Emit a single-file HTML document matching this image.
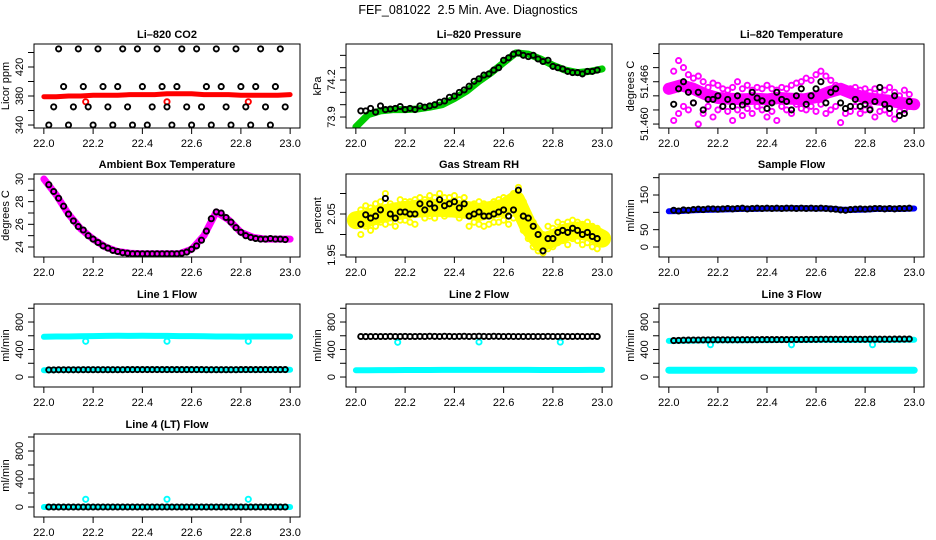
<!DOCTYPE html>
<html><head><meta charset="utf-8"><style>
html,body{margin:0;padding:0;background:#fff;}
svg{display:block;font-family:"Liberation Sans",Arial,sans-serif;}
</style></head><body>
<svg id="chart" width="936" height="540" viewBox="0 0 936 540" xmlns="http://www.w3.org/2000/svg">
<rect width="936" height="540" fill="#fff"/>
<text x="468" y="14" text-anchor="middle" font-size="12.5">FEF_081022&#160; 2.5 Min. Ave. Diagnostics</text>
</svg>
<script>
// ---------- data ----------
const T = [22.02,22.04,22.06,22.08,22.10,22.12,22.14,22.16,22.18,22.20,22.22,22.24,22.26,22.28,22.30,22.32,22.34,22.36,22.38,22.40,22.42,22.44,22.46,22.48,22.50,22.52,22.54,22.56,22.58,22.60,22.62,22.64,22.66,22.68,22.70,22.72,22.74,22.76,22.78,22.80,22.82,22.84,22.86,22.88,22.90,22.92,22.94,22.96,22.98];
const BT = [22.00,22.05,22.10,22.15,22.20,22.25,22.30,22.35,22.40,22.45,22.50,22.55,22.60,22.65,22.70,22.75,22.80,22.85,22.90,22.95,23.00];
const spikeT = [22.17,22.50,22.83];
const xTicks = [22.0,22.2,22.4,22.6,22.8,23.0];
const xTickLabels = ["22.0","22.2","22.4","22.6","22.8","23.0"];

const co2Black = [340,365,445,393,340,365,445,393,365,340,445,393,365,340,393,445,365,340,445,393,340,365,445,393,365,340,393,445,365,340,445,365,393,340,445,393,365,340,445,393,365,340,393,445,365,340,393,445,365];
const co2Red = [379,379,380,380,381,381,381,382,382,382,383,383,383,382,382,382,381,381,381,381,382];
const co2RedOut = [372,372,372];

const pressBand = [73.82,73.92,73.95,73.96,73.96,73.965,73.98,74.00,74.05,74.11,74.19,74.26,74.34,74.42,74.41,74.37,74.32,74.28,74.26,74.27,74.29];
const pressBlack = [73.95,73.95,73.97,73.94,73.99,73.96,73.965,73.97,73.985,73.96,73.97,73.96,73.99,73.98,73.99,74.0,74.02,74.03,74.06,74.07,74.10,74.12,74.15,74.19,74.21,74.24,74.25,74.28,74.30,74.36,74.38,74.41,74.42,74.40,74.39,74.40,74.37,74.35,74.36,74.31,74.30,74.29,74.27,74.26,74.26,74.25,74.27,74.27,74.28];

const tempBand = [51.4650,51.4655,51.4650,51.4642,51.4637,51.4636,51.4635,51.4636,51.4635,51.4637,51.4636,51.4635,51.4638,51.4645,51.4650,51.4643,51.4637,51.4635,51.4633,51.4630,51.4628];
const tempUp = [51.4675,51.4690,51.4680,51.4670,51.4665,51.4668,51.4660,51.4652,51.4658,51.4655,51.4650,51.4648,51.4652,51.4660,51.4650,51.4655,51.4648,51.4652,51.4650,51.4655,51.4650,51.4648,51.4652,51.4650,51.4655,51.4658,51.4660,51.4665,51.4662,51.4670,51.4675,51.4668,51.4662,51.4655,51.4650,51.4648,51.4650,51.4652,51.4648,51.4650,51.4645,51.4650,51.4645,51.4648,51.4652,51.4645,51.4640,51.4648,51.4642];
const tempLow = [51.4605,51.4615,51.4625,51.4620,51.4630,51.4600,51.4615,51.4625,51.4610,51.4620,51.4625,51.4618,51.4605,51.4620,51.4612,51.4622,51.4615,51.4625,51.4620,51.4610,51.4618,51.4605,51.4625,51.4620,51.4615,51.4628,51.4622,51.4620,51.4625,51.4618,51.4628,51.4615,51.4620,51.4625,51.4602,51.4615,51.4618,51.4625,51.4615,51.4620,51.4622,51.4610,51.4618,51.4620,51.4615,51.4607,51.4618,51.4620,51.4625];
const tempBlack = [51.4628,51.4650,51.4660,51.4645,51.4630,51.4645,51.4620,51.4635,51.4635,51.4640,51.4625,51.4635,51.4625,51.4640,51.4627,51.4632,51.4645,51.4637,51.4633,51.4622,51.4630,51.4645,51.4635,51.4632,51.4620,51.4640,51.4650,51.4628,51.4640,51.4650,51.4660,51.4630,51.4645,51.4650,51.4630,51.4622,51.4625,51.4635,51.4625,51.4628,51.4620,51.4632,51.4652,51.4628,51.4622,51.4640,51.4612,51.4615,51.4632];

const ambBand = [30.0,28.6,26.9,25.6,24.7,24.0,23.6,23.45,23.4,23.4,23.4,23.4,23.8,25.0,27.1,26.4,25.3,24.85,24.7,24.7,24.7];
const ambBlack = [29.5,28.9,28.3,27.6,26.9,26.3,25.8,25.5,25.0,24.7,24.4,24.1,23.9,23.7,23.6,23.5,23.45,23.4,23.4,23.4,23.4,23.4,23.4,23.4,23.4,23.4,23.4,23.45,23.55,23.8,24.1,24.6,25.4,26.5,27.1,27.0,26.6,26.2,25.7,25.3,25.0,24.85,24.75,24.7,24.7,24.75,24.7,24.7,24.65];

const rhBand = [2.035,2.04,2.05,2.055,2.06,2.063,2.065,2.065,2.063,2.06,2.055,2.06,2.065,2.085,2.02,1.98,1.99,2.005,2.01,2.005,1.99];
const rhUp = [2.06,2.07,2.065,2.075,2.08,2.10,2.075,2.07,2.085,2.08,2.08,2.085,2.09,2.085,2.095,2.09,2.10,2.09,2.09,2.095,2.085,2.09,2.07,2.075,2.08,2.075,2.07,2.08,2.085,2.09,2.085,2.10,2.115,2.08,2.04,2.03,2.01,2.0,2.02,2.015,2.03,2.025,2.03,2.035,2.03,2.025,2.03,2.02,2.015];
const rhLow = [2.0,2.02,2.01,2.02,2.03,2.025,2.03,2.02,2.035,2.035,2.03,2.025,2.05,2.04,2.045,2.04,2.06,2.045,2.05,2.055,2.04,2.05,2.02,2.03,2.025,2.02,2.025,2.03,2.03,2.035,2.025,2.04,2.07,2.01,1.99,1.97,1.96,1.955,1.965,1.97,1.98,1.985,1.975,1.99,1.985,1.975,1.98,1.97,1.965];
const rhBlack = [2.025,2.048,2.04,2.045,2.06,2.088,2.05,2.04,2.055,2.055,2.05,2.05,2.075,2.06,2.075,2.065,2.085,2.07,2.075,2.08,2.065,2.075,2.045,2.05,2.055,2.045,2.045,2.05,2.055,2.06,2.045,2.06,2.108,2.045,2.04,2.02,2.0,1.96,1.99,1.99,2.005,2.01,2.005,2.015,2.01,2.0,2.005,1.995,1.99];

const sampBand = [103,104,106,107,108,109,110,110,111,111,112,112,111,111,108,107,108,110,110,110,111];
const sampBlack = [106,104,107,106,108,109,108,110,110,109,110,111,110,111,112,110,111,112,111,112,111,112,111,112,112,111,112,111,112,111,112,111,110,109,107,106,108,109,110,109,110,111,111,110,111,110,111,111,112];

const l1High = [585,590,590,592,595,598,600,598,600,598,598,595,595,592,590,590,588,590,590,590,590];
const l1Low = [100,102,104,105,106,106,107,108,110,110,108,108,108,106,105,106,106,106,106,106,106];
const l1Black = [104,104,105,105,105,105,105,106,106,106,106,106,107,107,107,107,108,108,108,108,108,108,108,108,108,108,108,108,108,108,108,108,107,107,107,107,107,107,107,108,108,108,108,108,108,108,108,108,108];
const l1Dip = [520,520,520];

const l2Cyan = [100,100,101,101,102,102,102,103,103,103,104,104,104,103,103,102,102,102,102,103,103];
const l2Black = [590,588,590,589,590,590,591,590,590,591,590,590,591,590,592,591,590,592,591,590,591,592,590,591,592,591,590,592,591,590,591,590,590,589,590,589,590,590,591,590,590,591,590,590,591,590,590,591,590];
const l2Dip = [505,510,508];

const l3High = [525,528,530,532,535,535,536,537,537,538,538,538,540,540,538,538,540,540,540,542,542];
const l3Cyan = [100,100,100,100,100,100,100,100,100,100,100,100,100,100,100,100,100,100,100,100,100];
const l3Black = [530,532,535,537,538,539,540,540,541,541,541,542,542,542,543,543,543,543,544,544,544,545,545,545,546,546,546,547,547,547,548,548,548,548,548,548,549,549,549,549,550,550,550,550,550,551,551,552,553];
const l3Dip = [470,468,470];

const l4Cyan = [0,0,0,0,0,0,0,0,0,0,0,0,0,0,0,0,0,0,0,0,0];
const l4Black = [0,0,0,0,0,0,0,0,0,0,0,0,0,0,0,0,0,0,0,0,0,0,0,0,0,0,0,0,0,0,0,0,0,0,0,0,0,0,0,0,0,0,0,0,0,0,0,0,0];
const l4Spike = [110,110,110];

// ---------- drawing ----------
const NS = "http://www.w3.org/2000/svg";
const svg = document.getElementById('chart');
const COLS = [[34,300],[346,612],[659,924]];
const ROWS = [[44,128],[174,257],[304,387],[434,517]];
function mk(tag, attrs, parent){
  const e = document.createElementNS(NS, tag);
  for (const k in attrs) e.setAttribute(k, attrs[k]);
  (parent||svg).appendChild(e);
  return e;
}
function panel(p){
  const [L,R] = COLS[p.col], [Tp,B] = ROWS[p.row];
  const xs = v => L + (v - 21.96) / 1.08 * (R - L);
  const ys = v => B - (v - p.yLo) / (p.yHi - p.yLo) * (B - Tp);
  const g = mk('g', {});
  
  
  const clip = mk('clipPath', {id:'c'+p.name}, g);
  mk('rect', {x:L, y:Tp, width:R-L, height:B-Tp}, clip);
  const plot = mk('g', {'clip-path':'url(#c'+p.name+')'}, g);
  
  
  p.layers.forEach(ly => {
    const n = Math.min(ly.t.length, ly.v.length);
    if (ly.type === 'band') {
      let pts = [];
      for (let i = 0; i < n; i++) pts.push(xs(ly.t[i]).toFixed(1) + ',' + ys(ly.v[i]).toFixed(1));
      const pl = mk('polyline', {points: pts.join(' '), fill:'none', stroke: ly.color, 'stroke-width': ly.w, 'stroke-linejoin':'round', 'stroke-linecap':'round'}, plot);
      
      
    } else {
      for (let i = 0; i < n; i++) {
        const c = mk('circle', {cx: xs(ly.t[i]).toFixed(1), cy: ys(ly.v[i]).toFixed(1), r: 2.6, fill:'none', stroke: ly.color, 'stroke-width': 1.9}, plot);
        
        
      }
    }
  });
  const box = mk('rect', {x:L, y:Tp, width:R-L, height:B-Tp, fill:'none', stroke:'#000', 'stroke-width':1}, g);
  
  
  const tt = mk('text', {x:(L+R)/2, y:Tp-6, 'text-anchor':'middle', 'font-size':11, 'font-weight':'bold'}, g);
  tt.textContent = p.title;
  
  
  const xa = mk('g', {}, g);
  
  
  xTicks.forEach((v, i) => {
    const x = xs(v);
    mk('line', {x1:x, x2:x, y1:B, y2:B+6, stroke:'#000'}, xa);
    const t = mk('text', {x:x, y:B+19, 'text-anchor':'middle', 'font-size':11}, xa);
    t.textContent = xTickLabels[i];
  });
  const ya = mk('g', {}, g);
  
  
  p.ticks.forEach(v => {
    const y = ys(v);
    if (y < Tp - 1 || y > B + 1) return;
    mk('line', {x1:L-6, x2:L, y1:y, y2:y, stroke:'#000'}, ya);
  });
  p.labels.forEach((lab, i) => {
    const y = ys(p.labelVals[i]);
    const t = mk('text', {x:0, y:0, 'text-anchor':'middle', 'font-size':11, transform:'translate(' + (L-11) + ',' + y.toFixed(1) + ') rotate(-90)'}, ya);
    t.textContent = lab;
  });
  const yt = mk('text', {x:0, y:0, 'text-anchor':'middle', 'font-size':11, transform:'translate(' + (L-25) + ',' + ((Tp+B)/2) + ') rotate(-90)'}, g);
  yt.textContent = p.ylab;
  
  
}
const flowTicks = [0,200,400,600,800,1000];
const flowLabVals = [0,400,800];
const flowLabs = ["0","400","800"];
panel({name:'co2-panel', col:0, row:0, title:'Li–820 CO2', ylab:'Licor ppm', yLo:335.9, yHi:451.7,
  ticks:[340,360,380,400,420,440], labelVals:[340,380,420], labels:["340","380","420"],
  layers:[{type:'band', name:'co2-red-band', t:BT, v:co2Red, color:'#ff0000', w:5},
          {type:'pts', name:'co2-red-point', t:spikeT, v:co2RedOut, color:'#ff0000'},
          {type:'pts', name:'co2-black-point', t:T, v:co2Black, color:'#000'}]});
panel({name:'pressure-panel', col:1, row:0, title:'Li–820 Pressure', ylab:'kPa', yLo:73.811, yHi:74.492,
  ticks:[73.9,74.0,74.1,74.2,74.3,74.4], labelVals:[73.9,74.2], labels:["73.9","74.2"],
  layers:[{type:'band', name:'pressure-green-band', t:BT, v:pressBand, color:'#00cc00', w:7},
          {type:'pts', name:'pressure-black-point', t:T, v:pressBlack, color:'#000'}]});
panel({name:'licor-temp-panel', col:2, row:0, title:'Li–820 Temperature', ylab:'degrees C', yLo:51.45944, yHi:51.47135,
  ticks:[51.460,51.462,51.464,51.466,51.468,51.470], labelVals:[51.460,51.466], labels:["51.460","51.466"],
  layers:[{type:'band', name:'temp-magenta-band', t:BT, v:tempBand, color:'#ff00ff', w:12},
          {type:'pts', name:'temp-magenta-point', t:T, v:tempUp, color:'#ff00ff'},
          {type:'pts', name:'temp-magenta-point', t:T, v:tempLow, color:'#ff00ff'},
          {type:'pts', name:'temp-black-point', t:T, v:tempBlack, color:'#000'}]});
panel({name:'ambient-temp-panel', col:0, row:1, title:'Ambient Box Temperature', ylab:'degrees C', yLo:23.117, yHi:30.44,
  ticks:[24,25,26,27,28,29,30], labelVals:[24,26,28,30], labels:["24","26","28","30"],
  layers:[{type:'band', name:'ambient-magenta-band', t:BT, v:ambBand, color:'#ff00ff', w:7},
          {type:'pts', name:'ambient-black-point', t:T, v:ambBlack, color:'#000'}]});
panel({name:'rh-panel', col:1, row:1, title:'Gas Stream RH', ylab:'percent', yLo:1.9451, yHi:2.1476,
  ticks:[1.95,2.0,2.05,2.1], labelVals:[1.95,2.05], labels:["1.95","2.05"],
  layers:[{type:'band', name:'rh-yellow-band', t:BT, v:rhBand, color:'#ffff00', w:18},
          {type:'pts', name:'rh-yellow-point', t:T, v:rhUp, color:'#ffff00'},
          {type:'pts', name:'rh-yellow-point', t:T, v:rhLow, color:'#ffff00'},
          {type:'pts', name:'rh-black-point', t:T, v:rhBlack, color:'#000'}]});
panel({name:'sample-flow-panel', col:2, row:1, title:'Sample Flow', ylab:'ml/min', yLo:-28.8, yHi:210.6,
  ticks:[0,50,100,150,200], labelVals:[0,50,150], labels:["0","50","150"],
  layers:[{type:'band', name:'sample-blue-band', t:BT, v:sampBand, color:'#0000ff', w:6},
          {type:'pts', name:'sample-black-point', t:T, v:sampBlack, color:'#000'}]});
panel({name:'line1-panel', col:0, row:2, title:'Line 1 Flow', ylab:'ml/min', yLo:-145, yHi:1062,
  ticks:flowTicks, labelVals:flowLabVals, labels:flowLabs,
  layers:[{type:'band', name:'line1-cyan-high', t:BT, v:l1High, color:'#00ffff', w:6},
          {type:'pts', name:'line1-cyan-dip', t:spikeT, v:l1Dip, color:'#00ffff'},
          {type:'band', name:'line1-cyan-low', t:BT, v:l1Low, color:'#00ffff', w:6},
          {type:'pts', name:'line1-black-point', t:T, v:l1Black, color:'#000'}]});
panel({name:'line2-panel', col:1, row:2, title:'Line 2 Flow', ylab:'ml/min', yLo:-145, yHi:1062,
  ticks:flowTicks, labelVals:flowLabVals, labels:flowLabs,
  layers:[{type:'band', name:'line2-cyan-band', t:BT, v:l2Cyan, color:'#00ffff', w:6},
          {type:'pts', name:'line2-cyan-dip', t:spikeT, v:l2Dip, color:'#00ffff'},
          {type:'pts', name:'line2-black-point', t:T, v:l2Black, color:'#000'}]});
panel({name:'line3-panel', col:2, row:2, title:'Line 3 Flow', ylab:'ml/min', yLo:-145, yHi:1062,
  ticks:flowTicks, labelVals:flowLabVals, labels:flowLabs,
  layers:[{type:'band', name:'line3-cyan-high', t:BT, v:l3High, color:'#00ffff', w:6},
          {type:'pts', name:'line3-cyan-dip', t:spikeT, v:l3Dip, color:'#00ffff'},
          {type:'band', name:'line3-cyan-low', t:BT, v:l3Cyan, color:'#00ffff', w:7},
          {type:'pts', name:'line3-black-point', t:T, v:l3Black, color:'#000'}]});
panel({name:'line4-panel', col:0, row:3, title:'Line 4 (LT) Flow', ylab:'ml/min', yLo:-143, yHi:1043,
  ticks:flowTicks, labelVals:flowLabVals, labels:flowLabs,
  layers:[{type:'band', name:'line4-cyan-band', t:BT, v:l4Cyan, color:'#00ffff', w:6},
          {type:'pts', name:'line4-cyan-spike', t:spikeT, v:l4Spike, color:'#00ffff'},
          {type:'pts', name:'line4-black-point', t:T, v:l4Black, color:'#000'}]});
</script>
</body></html>
